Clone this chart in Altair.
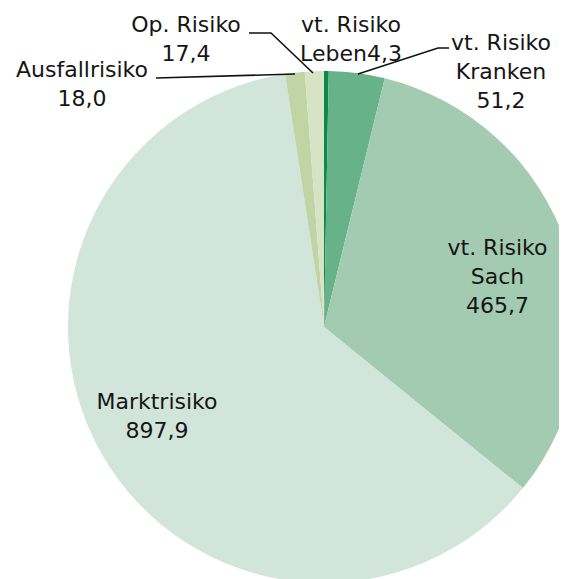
import altair as alt
import pandas as pd

categories = ["vt. Risiko Leben", "vt. Risiko Kranken", "vt. Risiko Sach",
              "Marktrisiko", "Ausfallrisiko", "Op. Risiko"]
values = [4.3, 51.2, 465.7, 897.9, 18.0, 17.4]
colors = ["#0b8a48", "#68b28a", "#a2cbb1", "#d2e5da", "#c1d4a6", "#d6e3c5"]

def fmt(v):
    return f"{v:.1f}".replace(".", ",")

label_texts = [
    "vt. Risiko\nLeben" + fmt(values[0]),
    "vt. Risiko\nKranken\n" + fmt(values[1]),
    "vt. Risiko\nSach\n" + fmt(values[2]),
    "Marktrisiko\n" + fmt(values[3]),
    "Ausfallrisiko\n" + fmt(values[4]),
    "Op. Risiko\n" + fmt(values[5]),
]
# annotation anchor positions (pixels, baseline of first line)
label_x = [343, 493, 489.5, 149, 74, 178]
label_y = [24, 42, 247, 401, 69, 24]

# leader lines (pixels)
lead_id = ["op", "op", "op", "aus", "aus", "kr", "kr", "kr"]
lead_x = [241, 263, 305, 148, 287, 441, 430, 350]
lead_y = [25, 25, 65, 70, 66, 40, 40, 66]

df = pd.DataFrame({"cat": categories, "value": values, "order": list(range(len(values)))})
lab = pd.DataFrame({"label": label_texts, "x": label_x, "y": label_y})
lead = pd.DataFrame({"id": lead_id, "x": lead_x, "y": lead_y, "o": list(range(len(lead_x)))})

pie = alt.Chart(df).mark_arc(radius=256, stroke=None).encode(
    theta=alt.Theta("value:Q", stack=True),
    color=alt.Color("cat:N", scale=alt.Scale(domain=categories, range=colors), legend=None),
    order=alt.Order("order:Q"),
    x=alt.value(316),
    y=alt.value(319),
)

lines = alt.Chart(lead).mark_line(color="#111111", strokeWidth=1.6).encode(
    x=alt.X("x:Q", scale=None, axis=None),
    y=alt.Y("y:Q", scale=None, axis=None),
    detail="id:N",
    order="o:Q",
)

texts = alt.Chart(lab).mark_text(
    font="DejaVu Sans", fontSize=22, color="#151515", lineBreak="\n",
    lineHeight=29, align="center", baseline="alphabetic",
).encode(
    x=alt.X("x:Q", scale=None, axis=None),
    y=alt.Y("y:Q", scale=None, axis=None),
    text="label:N",
)

chart = alt.layer(pie, lines, texts).properties(
    width=551, height=571,
    autosize=alt.AutoSizeParams(type="none"),
    padding=0,
).configure_view(stroke=None)

chart.save("out.html", embed_options={"renderer": "svg", "actions": False})
